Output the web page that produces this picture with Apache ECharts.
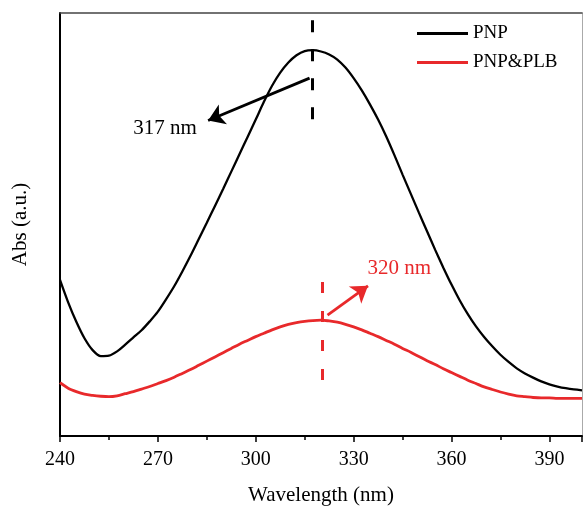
<!DOCTYPE html>
<html><head><meta charset="utf-8">
<script src="https://cdn.jsdelivr.net/npm/echarts@6/dist/echarts.min.js"></script>
<style>html,body{margin:0;padding:0;background:#fff}#c{width:584px;height:506px}</style>
</head><body><div id="c"></div>
<script>
const wavelengths = [240,242.5,245,247.5,250,252.5,255,257.5,260,262.5,265,267.5,270,272.5,275,277.5,280,282.5,285,287.5,290,292.5,295,297.5,300,302.5,305,307.5,310,312.5,315,317.5,320,322.5,325,327.5,330,332.5,335,337.5,340,342.5,345,347.5,350,352.5,355,357.5,360,362.5,365,367.5,370,372.5,375,377.5,380,382.5,385,387.5,390,392.5,395,397.5,400];
const pnp = [36.9,31.6,27.0,23.1,20.3,18.9,19.0,20.0,21.6,23.3,25.0,27.1,29.4,32.3,35.4,38.9,42.6,46.5,50.4,54.4,58.4,62.5,66.6,70.7,74.8,79.0,82.8,85.9,88.3,90.0,91.0,91.2,90.9,90.2,89.0,87.1,84.6,81.7,78.4,74.8,70.8,66.4,61.8,57.3,52.8,48.4,44.0,39.8,35.8,32.1,28.8,25.9,23.4,21.2,19.2,17.5,16.0,14.8,13.8,12.9,12.2,11.7,11.3,11.0,10.8];
const pnpPlb = [12.6,11.3,10.5,9.9,9.6,9.4,9.3,9.5,10.0,10.5,11.1,11.7,12.4,13.1,13.9,14.8,15.7,16.7,17.7,18.7,19.7,20.7,21.7,22.6,23.5,24.3,25.1,25.8,26.4,26.8,27.1,27.3,27.4,27.2,26.9,26.4,25.8,25.1,24.3,23.5,22.6,21.7,20.7,19.8,18.8,17.8,16.9,15.9,15.0,14.1,13.2,12.4,11.6,11.0,10.4,9.9,9.5,9.3,9.1,9.0,9.0,8.9,8.9,8.9,8.9];
const seriesNames = ['PNP', 'PNP&PLB'];
const xTicks = [240,270,300,330,360,390];
const peakLabels = ['317 nm', '320 nm'];
const peakPos = [317.4, 320.3];

const BLACK = '#000000';
const RED = '#e8292b';
const FONT = "'Liberation Serif', 'DejaVu Serif', serif";

const chart = echarts.init(document.getElementById('c'), null, {renderer: 'canvas'});

function pairs(ys) { return wavelengths.map((x, i) => [x, ys[i]]); }

chart.setOption({
  animation: false,
  backgroundColor: '#fff',
  grid: { left: 60, right: 2, top: 13, bottom: 70, show: false, containLabel: false, outerBoundsMode: 'none' },
  legend: {
    left: 417, top: 24, orient: 'vertical', itemWidth: 51, itemHeight: 3, itemGap: 10,
    padding: 0, icon: 'rect',
    data: seriesNames,
    textStyle: { fontFamily: FONT, fontSize: 19, color: '#000' }
  },
  xAxis: [{
    type: 'value', min: 240, max: 400, interval: 30,
    name: 'Wavelength (nm)', nameLocation: 'middle', nameGap: 49,
    nameTextStyle: { fontFamily: FONT, fontSize: 21, color: '#000' },
    axisLine: { show: true, onZero: false, lineStyle: { color: '#000', width: 2 } },
    axisTick: { show: true, length: 6, lineStyle: { color: '#000', width: 1.5 } },
    minorTick: { show: true, splitNumber: 2, length: 4, lineStyle: { color: '#000', width: 1.5 } },
    splitLine: { show: false },
    axisLabel: { fontFamily: FONT, fontSize: 20, color: '#000', margin: 14,
      formatter: v => xTicks.includes(v) ? String(v) : '' }
  }, {
    type: 'value', min: 240, max: 400, position: 'top',
    axisLine: { show: true, onZero: false, lineStyle: { color: '#444', width: 1.5 } },
    axisTick: { show: false }, axisLabel: { show: false }, splitLine: { show: false }
  }],
  yAxis: [{
    type: 'value', min: 0, max: 100,
    name: 'Abs (a.u.)', nameLocation: 'middle', nameGap: 29,
    nameTextStyle: { fontFamily: FONT, fontSize: 21, color: '#000' },
    axisLine: { show: true, onZero: false, lineStyle: { color: '#000', width: 2 } },
    axisTick: { show: false }, axisLabel: { show: false }, splitLine: { show: false }
  }, {
    type: 'value', min: 0, max: 100, position: 'right',
    axisLine: { show: true, onZero: false, lineStyle: { color: '#aaa', width: 1 } },
    axisTick: { show: false }, axisLabel: { show: false }, splitLine: { show: false }
  }],
  series: [{
    name: seriesNames[0], type: 'line', smooth: 0.3, showSymbol: false,
    data: pairs(pnp), color: BLACK,
    lineStyle: { color: BLACK, width: 2.3 },
    markLine: {
      silent: true, symbol: ['none', 'none'], label: { show: false },
      data: [
        [{ coord: [peakPos[0], 98.3], lineStyle: { color: BLACK, width: 3, type: [12, 17] } },
         { coord: [peakPos[0], 74] }],
        [{ coord: [316.5, 84.6], symbol: 'none', lineStyle: { color: BLACK, width: 2.8, type: 'solid' } },
         { coord: [285.4, 74.6], symbol: 'arrow', symbolSize: 16 }]
      ]
    }
  }, {
    name: seriesNames[1], type: 'line', smooth: 0.3, showSymbol: false,
    data: pairs(pnpPlb), color: RED,
    lineStyle: { color: RED, width: 2.8 },
    markLine: {
      silent: true, symbol: ['none', 'none'], label: { show: false },
      data: [
        [{ coord: [peakPos[1], 36.4], lineStyle: { color: RED, width: 3, type: [11, 18] } },
         { coord: [peakPos[1], 13.0] }],
        [{ coord: [322.0, 28.6], symbol: 'none', lineStyle: { color: RED, width: 2.8, type: 'solid' } },
         { coord: [334.4, 35.5], symbol: 'arrow', symbolSize: 16 }]
      ]
    }
  }]
});

const p1 = chart.convertToPixel({gridIndex: 0}, [272.2, 72.8]);
const p2 = chart.convertToPixel({gridIndex: 0}, [344.0, 39.7]);
chart.setOption({
  graphic: [
    { type: 'text', x: p1[0], y: p1[1], style: { text: peakLabels[0], font: "21px " + FONT, fill: BLACK, align: 'center', verticalAlign: 'middle' } },
    { type: 'text', x: p2[0], y: p2[1], style: { text: peakLabels[1], font: "21px " + FONT, fill: RED, align: 'center', verticalAlign: 'middle' } }
  ]
});
</script></body></html>
